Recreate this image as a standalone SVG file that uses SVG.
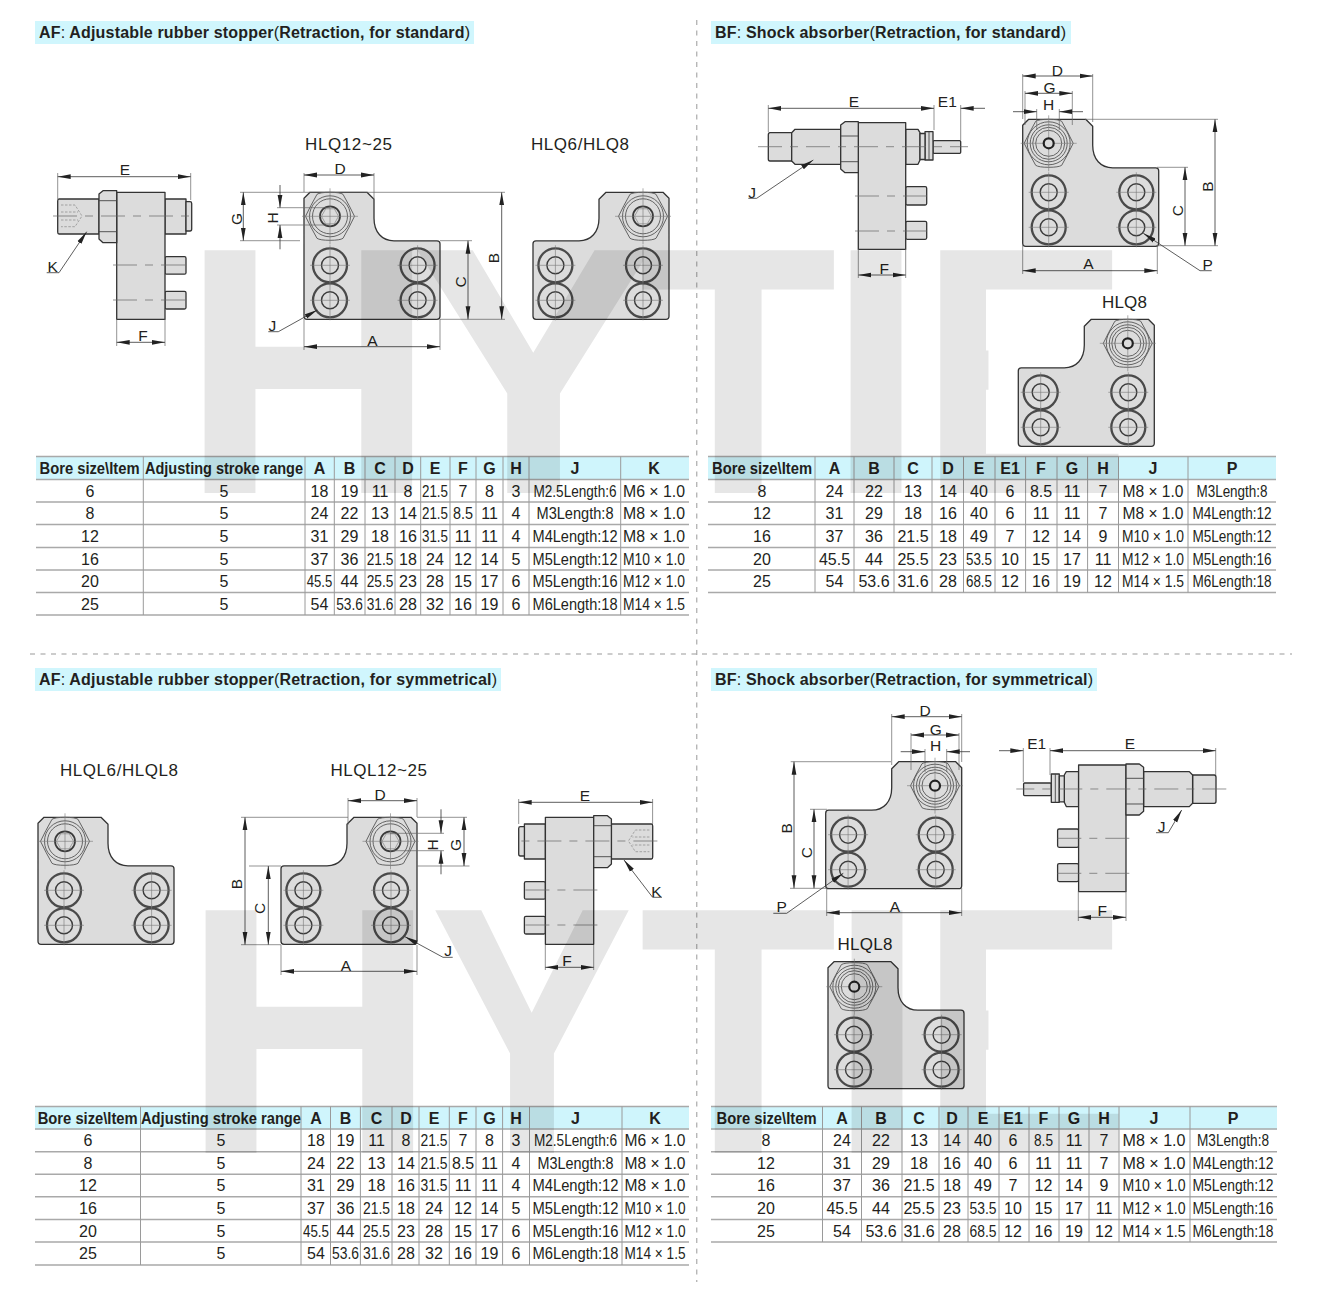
<svg xmlns="http://www.w3.org/2000/svg" width="1325" height="1307" viewBox="0 0 1325 1307">
<style>
text{font-family:"Liberation Sans",Arial,sans-serif;fill:#231f20}
.sm{stroke:#333;stroke-width:1.3;stroke-linejoin:round;fill:#dcdcdc}
.edge{stroke:#444;stroke-width:.9;fill:none}
.ring{fill:none;stroke:#4a4a4a;stroke-width:2.3}
.in{fill:none;stroke:#3a3a3a;stroke-width:1.4}
.thin{fill:none;stroke:#777;stroke-width:.6}
.nl{fill:none;stroke:#555;stroke-width:.9}
.hid{fill:none;stroke:#888;stroke-width:.7;stroke-dasharray:2.5 1.5}
.ctr{fill:none;stroke:#666;stroke-width:.7;stroke-dasharray:24 8 8 8}
.dim{fill:none;stroke:#333;stroke-width:.8;marker-start:url(#ar);marker-end:url(#ar)}
.one{fill:none;stroke:#333;stroke-width:.8;marker-end:url(#ar)}
.ext{fill:none;stroke:#666;stroke-width:.7}
.lab text{font-family:"Liberation Sans Narrow","Liberation Sans",Arial,sans-serif;font-size:15.5px;text-anchor:middle}
.ttl{font-size:17px}
.head{font-size:16px;font-weight:700}
.cell text{font-size:16px;text-anchor:middle}
.hc text{font-size:16px;font-weight:700;text-anchor:middle}
.bar{fill:#d0f6fd}
.hdr{fill:#cff5fc}
.row{stroke:#a9a9a9;stroke-width:1.5;fill:none}
.col{stroke:#9a9a9a;stroke-width:1;fill:none}
.sep{stroke:#999;stroke-width:1;stroke-dasharray:5 5.5;fill:none}
.reg{font-weight:400}
</style>
<defs>
<marker id="ar" markerUnits="userSpaceOnUse" markerWidth="14" markerHeight="6" refX="13" refY="3" orient="auto-start-reverse"><path d="M0,0.6 L13,3 L0,5.4Z" fill="#222"/></marker>
<clipPath id="e1"><rect x="900" y="240" width="240" height="57"/><rect x="900" y="297" width="88.5" height="153"/><rect x="900" y="450" width="240" height="50"/></clipPath>
<clipPath id="e2"><rect x="900" y="900" width="240" height="55"/><rect x="900" y="955" width="88.5" height="155"/><rect x="900" y="1110" width="240" height="50"/></clipPath>
<g id="bolt">
<circle r="17" class="ring"/><circle r="8.5" class="in"/>
<path class="thin" d="M-20,0H20M0,-20V20"/>
</g>
<g id="plate">
<path class="sm" d="M0,6 L6,0 H63 L70,7 V26 C70,40 78,48.5 90,48.5 H133 Q136,48.5 136,51.5 V124 Q136,127 133,127 H3 Q0,127 0,124 Z"/>
<use href="#bolt" x="26" y="73"/><use href="#bolt" x="26" y="108"/><use href="#bolt" x="113.6" y="73"/><use href="#bolt" x="113.6" y="108"/>
</g>
<g id="nutA">
<path class="nl" style="fill:#dcdcdc" d="M-24.5,0 L-19,-11 L-13,-22 Q-10,-24 0,-24 Q10,-24 13,-22 L19,-11 L24.5,0 L19,11 L13,22 Q10,24 0,24 Q-10,24 -13,22 L-19,11Z"/>
<circle r="20.5" class="nl"/><circle r="17.5" class="nl"/>
<circle r="10" class="in" style="stroke-width:1.8"/>
<path class="thin" d="M-8.5,0 L-4.3,-7.5 H4.3 L8.5,0 L4.3,7.5 H-4.3Z"/>
<path class="thin" d="M-28,0H28M0,-28V28"/>
</g>
<g id="nutB">
<path class="nl" style="fill:#dcdcdc" d="M-24.5,0 L-19,-11 L-13,-22 Q-10,-24 0,-24 Q10,-24 13,-22 L19,-11 L24.5,0 L19,11 L13,22 Q10,24 0,24 Q-10,24 -13,22 L-19,11Z"/>
<circle r="21.5" class="nl"/><circle r="18.5" class="nl"/><circle r="16" class="nl"/><circle r="13" class="nl"/>
<path class="thin" d="M-28,0H28M0,-28V28"/>
<circle r="5" fill="#dcdcdc" stroke="#222" stroke-width="2.2"/>
</g>
<g id="sideAF">
<path class="sm" d="M59,199 H99 V234 H59 Q57.7,234 57.7,232 V201 Q57.7,199 59,199Z"/>
<path class="hid" d="M61,205H75L82,216L75,226.7H61M61,212H78M61,220H78"/>
<rect class="sm" x="165" y="199" width="21" height="35"/>
<path class="sm" d="M186,201.7 H190 Q191.7,201.7 191.7,203.5 V229 Q191.7,231 190,231 H186Z"/>
<rect class="sm" x="165" y="256.7" width="21" height="17.5" rx="1.5"/>
<rect class="sm" x="165" y="291.3" width="21" height="17.7" rx="1.5"/>
<rect class="sm" x="116.7" y="192.3" width="48.3" height="127"/>
<path class="sm" d="M116.7,190.7 H103 L99,194 V239 L103,242.7 H116.7Z"/>
<path class="edge" d="M99,200.7H116.7M99,231.7H116.7"/>
<path class="ctr" d="M53,216H193M113,265H190M113,300H190"/>
</g>
<g id="sideBF">
<path class="sm" d="M770,132.7 H791.7 V161 H770 Q768.3,161 768.3,159 V135 Q768.3,132.7 770,132.7Z"/>
<path class="sm" d="M795,129.3 H840.7 V164.3 H795 L791.7,161 V132.7Z"/>
<rect class="sm" x="933" y="140.7" width="27.7" height="12.6" rx="1"/>
<path class="sm" d="M925,131.7H933V160H925Z"/>
<path class="edge" d="M929,131.7V160"/>
<path class="sm" d="M905.7,129.3H918L920,132.7V160L918,164.3H905.7Z"/>
<path class="sm" d="M920,133.5H925V159.5H920Z"/>
<rect class="sm" x="905.7" y="186.7" width="21" height="18.3" rx="1.5"/>
<rect class="sm" x="905.7" y="221.3" width="21" height="18" rx="1.5"/>
<rect class="sm" x="858.3" y="122.7" width="47.4" height="126.6"/>
<path class="sm" d="M858.3,121.7 H845 L840.7,125 V169 L845,172.7 H858.3Z"/>
<path class="edge" d="M840.7,136H858.3M840.7,161.7H858.3"/>
<path class="ctr" d="M758,146.7H968M855,196H931.7M855,231H931.7"/>
</g>
</defs>

<g id="separators">
<path class="sep" d="M696.8,20V1282M30,654H1292"/>
</g>

<g id="titles">
<rect class="bar" x="35" y="21" width="439" height="23"/>
<rect class="bar" x="711" y="21" width="360" height="23"/>
<rect class="bar" x="35" y="668" width="466" height="23"/>
<rect class="bar" x="711" y="668" width="386" height="23"/>
<text class="head" x="39" y="38" textLength="431">AF<tspan class="reg">:</tspan> Adjustable rubber stopper<tspan class="reg">(</tspan>Retraction, for standard<tspan class="reg">)</tspan></text>
<text class="head" x="715" y="38" textLength="351">BF<tspan class="reg">:</tspan> Shock absorber<tspan class="reg">(</tspan>Retraction, for standard<tspan class="reg">)</tspan></text>
<text class="head" x="39" y="685" textLength="458">AF<tspan class="reg">:</tspan> Adjustable rubber stopper<tspan class="reg">(</tspan>Retraction, for symmetrical<tspan class="reg">)</tspan></text>
<text class="head" x="715" y="685" textLength="378">BF<tspan class="reg">:</tspan> Shock absorber<tspan class="reg">(</tspan>Retraction, for symmetrical<tspan class="reg">)</tspan></text>
</g>

<g id="node-af-std-side"><use href="#sideAF"/></g>
<g id="node-af-std-front">
<text class="ttl" x="305" y="150" textLength="87">HLQ12~25</text>
<g transform="translate(304,192.3)"><use href="#plate"/><use href="#nutA" x="26" y="24"/></g>
</g>
<g id="node-af-std-small">
<text class="ttl" x="531" y="150" textLength="98">HLQ6/HLQ8</text>
<g transform="translate(669,192.3) scale(-1,1)"><use href="#plate"/><use href="#nutA" x="26" y="24"/></g>
</g>
<g id="node-bf-std-side"><use href="#sideBF"/></g>
<g id="node-bf-std-front">
<g transform="translate(1022.7,119.3)"><use href="#plate"/><use href="#nutB" x="26" y="24"/></g>
</g>
<g id="node-bf-std-small">
<text class="ttl" x="1102" y="308" textLength="45">HLQ8</text>
<g transform="translate(1154.3,319.3) scale(-1,1)"><use href="#plate"/><use href="#nutB" x="26.5" y="24"/></g>
</g>
<g id="node-af-sym-small">
<text class="ttl" x="60" y="776" textLength="118">HLQL6/HLQL8</text>
<g transform="translate(38,817.3)"><use href="#plate"/><use href="#nutA" x="27" y="24"/></g>
</g>
<g id="node-af-sym-front">
<text class="ttl" x="330.5" y="776" textLength="96.5">HLQL12~25</text>
<g transform="translate(417,817.3) scale(-1,1)"><use href="#plate"/><use href="#nutA" x="26.5" y="24"/></g>
</g>
<g id="node-af-sym-side"><use href="#sideAF" transform="translate(710.4,625) scale(-1,1)"/></g>
<g id="node-bf-sym-front">
<g transform="translate(961.7,761.7) scale(-1,1)"><use href="#plate"/><use href="#nutB" x="26.7" y="24"/></g>
</g>
<g id="node-bf-sym-side"><use href="#sideBF" transform="translate(1984.3,642.3) scale(-1,1)"/></g>
<g id="node-bf-sym-small">
<text class="ttl" x="837.5" y="950" textLength="55">HLQL8</text>
<g transform="translate(828,961.7)"><use href="#plate"/><use href="#nutB" x="26.3" y="25"/></g>
</g>

<g id="connectors">
<path class="ext" d="M57.7,173V199M190.7,173V200M116.7,319V346M165,319V346"/>
<path class="dim" d="M57.7,176.7H190.7"/><path class="dim" d="M116.7,342.3H165"/>
<path class="one" d="M46.7,272.7H59L86.7,231.7"/>
<path class="ext" d="M304,173V192M374,173V199M304,319V350M440,319V350M240,192.3H505M240,240.7H300M277,207.7H330M277,225H330M440,319.3H505M440,240.7H472"/>
<path class="dim" d="M304,175H374"/><path class="dim" d="M304,346.7H440"/>
<path class="dim" d="M243.3,192.3V240.7"/>
<path class="one" d="M280,185V207.7"/><path class="one" d="M280,249.3V225"/>
<path class="dim" d="M468,240.7V319.3"/><path class="dim" d="M501.7,192.3V319.3"/>
<path class="one" d="M268.3,331.7H278.3L317.3,310"/>
<path class="ext" d="M768.3,105V132M934,105V130M960.7,105V140M858.3,249V278M905.7,249V278"/>
<path class="dim" d="M768.3,108.3H934"/><path class="one" d="M985,108.3H960.7"/>
<path class="dim" d="M858.3,275H905.7"/>
<path class="one" d="M748.3,198.3H756.7L813.3,160"/>
<path class="ext" d="M1022.7,74V119M1092.7,74V122M1025,91V125M1072.3,91V125M1036.7,109V130M1059.3,109V130M1085,119.3H1218M1157,245.7H1218M1157,167.3H1188M1022.7,245V274M1157.3,245V274"/>
<path class="dim" d="M1022.7,76H1092.7"/><path class="dim" d="M1025,93.3H1072.3"/>
<path class="one" d="M1013,111.7H1036.7"/><path class="one" d="M1083,111.7H1059.3"/>
<path class="dim" d="M1215,119.3V245.7"/><path class="dim" d="M1185,167.3V245.7"/>
<path class="dim" d="M1022.7,270.7H1157.3"/>
<path class="one" d="M1211.7,270.7H1200L1143.3,233.3"/>
<path class="ext" d="M348,798V825M417,798V817M241,817.3H348M417,817.3H467M241,944.7H281M249,866H281M417,866H469.5M281,945V975M417,945V975M390,833.3H444M390,850.7H444M518.7,799V824M652.6,799V824M545.3,945V970M593.7,945V970"/>
<path class="dim" d="M348,800.7H417"/><path class="dim" d="M245,817.3V944.7"/><path class="dim" d="M268.3,866V944.7"/>
<path class="dim" d="M281,971.3H417"/><path class="dim" d="M464,817.3V866"/>
<path class="one" d="M441,809.3V833.3"/><path class="one" d="M441,874.3V850.7"/>
<path class="one" d="M452.7,957.3H443L405,936.7"/>
<path class="dim" d="M518.7,802.3H652.6"/><path class="dim" d="M545.3,967.3H593.7"/>
<path class="one" d="M662,897.3H652.6L624,860"/>
<path class="ext" d="M891.7,714V765M961.7,714V762M911,733V770M959,733V770M925,749V772M946.7,749V772M790.7,761.7H891M790,888.3H827M810,809.3H827M826.7,888V916M961.7,888V916M1023.3,748V782M1050,748V775M1215.7,748V775M1078.3,891V921M1126,891V921"/>
<path class="dim" d="M891.7,716.7H961.7"/><path class="dim" d="M911,735H959"/>
<path class="one" d="M900.7,751.7H925"/><path class="one" d="M970,751.7H946.7"/>
<path class="dim" d="M794,761.7V888.3"/><path class="dim" d="M814,809.3V888.3"/><path class="dim" d="M826.7,912.7H961.7"/>
<path class="one" d="M773.3,913.3H786.7L843.3,873.3"/>
<path class="one" d="M999,750.7H1023.3"/><path class="dim" d="M1050,750.7H1215.7"/><path class="dim" d="M1078.3,917.3H1126"/>
<path class="one" d="M1156,832.7H1168.3L1181.7,810"/>
</g>

<g id="dimension-labels" class="lab">
<text x="125" y="174.5">E</text><text x="143" y="341">F</text><text x="52.7" y="271.5">K</text>
<text x="340" y="174">D</text><text x="372.3" y="345.5">A</text><text x="272.3" y="330.5">J</text>
<text transform="translate(241.5,219) rotate(-90)">G</text><text transform="translate(277.5,218) rotate(-90)">H</text>
<text transform="translate(465.5,282) rotate(-90)">C</text><text transform="translate(499,258) rotate(-90)">B</text>
<text x="854" y="106.5">E</text><text x="947.3" y="106.5">E1</text><text x="884.3" y="273.5">F</text><text x="752" y="197.5">J</text>
<text x="1057.3" y="75.5">D</text><text x="1049.5" y="92.5">G</text><text x="1048.5" y="109.5">H</text>
<text transform="translate(1212.7,186.7) rotate(-90)">B</text><text transform="translate(1182.7,210.7) rotate(-90)">C</text>
<text x="1088.3" y="269">A</text><text x="1207.7" y="269.5">P</text>
<text x="380" y="799.5">D</text><text x="346" y="970.5">A</text><text x="448" y="955.5">J</text>
<text transform="translate(241.7,884) rotate(-90)">B</text><text transform="translate(265,908.3) rotate(-90)">C</text>
<text transform="translate(460.6,845) rotate(-90)">G</text><text transform="translate(437.5,845) rotate(-90)">H</text>
<text x="585" y="800.5">E</text><text x="567" y="966">F</text><text x="656.4" y="897">K</text>
<text x="925" y="716">D</text><text x="935.7" y="734.5">G</text><text x="935.7" y="750.5">H</text>
<text transform="translate(792.3,828.3) rotate(-90)">B</text><text transform="translate(812.3,852.7) rotate(-90)">C</text>
<text x="895" y="911.5">A</text><text x="781.7" y="912">P</text>
<text x="1036.7" y="749">E1</text><text x="1130" y="749">E</text><text x="1102.3" y="915.5">F</text><text x="1161.7" y="831.5">J</text>
</g>

<g id="table-1">
<rect class="hdr" x="36" y="456.5" width="653" height="23"/>
<path class="row" d="M36,456.5H689M36,479.5H689M36,502H689M36,524.5H689M36,547.5H689M36,570H689M36,592.5H689M36,615H689"/>
<path class="col" d="M143.3,456.5V615M305,456.5V615M334.3,456.5V615M365,456.5V615M395,456.5V615M420.7,456.5V615M450,456.5V615M476,456.5V615M503,456.5V615M529,456.5V615M620.7,456.5V615"/>
<g class="hc">
<text x="89.5" y="473.5" textLength="100" lengthAdjust="spacingAndGlyphs">Bore size\Item</text>
<text x="224" y="473.5" textLength="158" lengthAdjust="spacingAndGlyphs">Adjusting stroke range</text>
<text x="319.5" y="473.5">A</text><text x="349.5" y="473.5">B</text><text x="380" y="473.5">C</text><text x="408" y="473.5">D</text><text x="435" y="473.5">E</text><text x="463" y="473.5">F</text><text x="489.5" y="473.5">G</text><text x="516" y="473.5">H</text><text x="575" y="473.5">J</text><text x="654" y="473.5">K</text>
</g>
<g class="cell">
<text x="90" y="496.5">6</text><text x="224" y="496.5">5</text><text x="319.5" y="496.5">18</text><text x="349.5" y="496.5">19</text><text x="380" y="496.5">11</text><text x="408" y="496.5">8</text><text x="435" y="496.5" textLength="26" lengthAdjust="spacingAndGlyphs">21.5</text><text x="463" y="496.5">7</text><text x="489.5" y="496.5">8</text><text x="516" y="496.5">3</text><text x="575" y="496.5" textLength="83" lengthAdjust="spacingAndGlyphs">M2.5Length:6</text><text x="654" y="496.5" textLength="62" lengthAdjust="spacingAndGlyphs">M6 × 1.0</text>
<text x="90" y="519">8</text><text x="224" y="519">5</text><text x="319.5" y="519">24</text><text x="349.5" y="519">22</text><text x="380" y="519">13</text><text x="408" y="519">14</text><text x="435" y="519" textLength="26" lengthAdjust="spacingAndGlyphs">21.5</text><text x="463" y="519" textLength="20" lengthAdjust="spacingAndGlyphs">8.5</text><text x="489.5" y="519">11</text><text x="516" y="519">4</text><text x="575" y="519" textLength="77" lengthAdjust="spacingAndGlyphs">M3Length:8</text><text x="654" y="519" textLength="62" lengthAdjust="spacingAndGlyphs">M8 × 1.0</text>
<text x="90" y="541.8">12</text><text x="224" y="541.8">5</text><text x="319.5" y="541.8">31</text><text x="349.5" y="541.8">29</text><text x="380" y="541.8">18</text><text x="408" y="541.8">16</text><text x="435" y="541.8" textLength="26" lengthAdjust="spacingAndGlyphs">31.5</text><text x="463" y="541.8">11</text><text x="489.5" y="541.8">11</text><text x="516" y="541.8">4</text><text x="575" y="541.8" textLength="85" lengthAdjust="spacingAndGlyphs">M4Length:12</text><text x="654" y="541.8" textLength="62" lengthAdjust="spacingAndGlyphs">M8 × 1.0</text>
<text x="90" y="564.5">16</text><text x="224" y="564.5">5</text><text x="319.5" y="564.5">37</text><text x="349.5" y="564.5">36</text><text x="380" y="564.5" textLength="26.7" lengthAdjust="spacingAndGlyphs">21.5</text><text x="408" y="564.5">18</text><text x="435" y="564.5">24</text><text x="463" y="564.5">12</text><text x="489.5" y="564.5">14</text><text x="516" y="564.5">5</text><text x="575" y="564.5" textLength="85" lengthAdjust="spacingAndGlyphs">M5Length:12</text><text x="654" y="564.5" textLength="62" lengthAdjust="spacingAndGlyphs">M10 × 1.0</text>
<text x="90" y="587">20</text><text x="224" y="587">5</text><text x="319.5" y="587" textLength="25.5" lengthAdjust="spacingAndGlyphs">45.5</text><text x="349.5" y="587">44</text><text x="380" y="587" textLength="26.7" lengthAdjust="spacingAndGlyphs">25.5</text><text x="408" y="587">23</text><text x="435" y="587">28</text><text x="463" y="587">15</text><text x="489.5" y="587">17</text><text x="516" y="587">6</text><text x="575" y="587" textLength="85" lengthAdjust="spacingAndGlyphs">M5Length:16</text><text x="654" y="587" textLength="62" lengthAdjust="spacingAndGlyphs">M12 × 1.0</text>
<text x="90" y="609.8">25</text><text x="224" y="609.8">5</text><text x="319.5" y="609.8">54</text><text x="349.5" y="609.8" textLength="26.7" lengthAdjust="spacingAndGlyphs">53.6</text><text x="380" y="609.8" textLength="26.7" lengthAdjust="spacingAndGlyphs">31.6</text><text x="408" y="609.8">28</text><text x="435" y="609.8">32</text><text x="463" y="609.8">16</text><text x="489.5" y="609.8">19</text><text x="516" y="609.8">6</text><text x="575" y="609.8" textLength="85" lengthAdjust="spacingAndGlyphs">M6Length:18</text><text x="654" y="609.8" textLength="62" lengthAdjust="spacingAndGlyphs">M14 × 1.5</text>
</g>
</g>

<g id="table-2">
<rect class="hdr" x="708" y="456.5" width="568" height="23"/>
<path class="row" d="M708,456.5H1276M708,479.5H1276M708,502H1276M708,524.5H1276M708,547.5H1276M708,570H1276M708,592.5H1276"/>
<path class="col" d="M815,456.5V592.5M854,456.5V592.5M894,456.5V592.5M932,456.5V592.5M963.5,456.5V592.5M995,456.5V592.5M1025.6,456.5V592.5M1057,456.5V592.5M1087.6,456.5V592.5M1118.5,456.5V592.5M1188,456.5V592.5"/>
<g class="hc">
<text x="762" y="473.5" textLength="100" lengthAdjust="spacingAndGlyphs">Bore size\Item</text>
<text x="834.5" y="473.5">A</text><text x="874" y="473.5">B</text><text x="913" y="473.5">C</text><text x="948" y="473.5">D</text><text x="979" y="473.5">E</text><text x="1010" y="473.5">E1</text><text x="1041" y="473.5">F</text><text x="1072" y="473.5">G</text><text x="1103" y="473.5">H</text><text x="1153" y="473.5">J</text><text x="1232" y="473.5">P</text>
</g>
<g class="cell">
<text x="762" y="496.5">8</text><text x="834.5" y="496.5">24</text><text x="874" y="496.5">22</text><text x="913" y="496.5">13</text><text x="948" y="496.5">14</text><text x="979" y="496.5">40</text><text x="1010" y="496.5">6</text><text x="1041" y="496.5">8.5</text><text x="1072" y="496.5">11</text><text x="1103" y="496.5">7</text><text x="1153" y="496.5" textLength="61" lengthAdjust="spacingAndGlyphs">M8 × 1.0</text><text x="1232" y="496.5" textLength="71" lengthAdjust="spacingAndGlyphs">M3Length:8</text>
<text x="762" y="519">12</text><text x="834.5" y="519">31</text><text x="874" y="519">29</text><text x="913" y="519">18</text><text x="948" y="519">16</text><text x="979" y="519">40</text><text x="1010" y="519">6</text><text x="1041" y="519">11</text><text x="1072" y="519">11</text><text x="1103" y="519">7</text><text x="1153" y="519" textLength="61" lengthAdjust="spacingAndGlyphs">M8 × 1.0</text><text x="1232" y="519" textLength="79" lengthAdjust="spacingAndGlyphs">M4Length:12</text>
<text x="762" y="541.8">16</text><text x="834.5" y="541.8">37</text><text x="874" y="541.8">36</text><text x="913" y="541.8">21.5</text><text x="948" y="541.8">18</text><text x="979" y="541.8">49</text><text x="1010" y="541.8">7</text><text x="1041" y="541.8">12</text><text x="1072" y="541.8">14</text><text x="1103" y="541.8">9</text><text x="1153" y="541.8" textLength="62" lengthAdjust="spacingAndGlyphs">M10 × 1.0</text><text x="1232" y="541.8" textLength="79" lengthAdjust="spacingAndGlyphs">M5Length:12</text>
<text x="762" y="564.5">20</text><text x="834.5" y="564.5">45.5</text><text x="874" y="564.5">44</text><text x="913" y="564.5">25.5</text><text x="948" y="564.5">23</text><text x="979" y="564.5" textLength="26" lengthAdjust="spacingAndGlyphs">53.5</text><text x="1010" y="564.5">10</text><text x="1041" y="564.5">15</text><text x="1072" y="564.5">17</text><text x="1103" y="564.5">11</text><text x="1153" y="564.5" textLength="62" lengthAdjust="spacingAndGlyphs">M12 × 1.0</text><text x="1232" y="564.5" textLength="79" lengthAdjust="spacingAndGlyphs">M5Length:16</text>
<text x="762" y="587">25</text><text x="834.5" y="587">54</text><text x="874" y="587">53.6</text><text x="913" y="587">31.6</text><text x="948" y="587">28</text><text x="979" y="587" textLength="26" lengthAdjust="spacingAndGlyphs">68.5</text><text x="1010" y="587">12</text><text x="1041" y="587">16</text><text x="1072" y="587">19</text><text x="1103" y="587">12</text><text x="1153" y="587" textLength="62" lengthAdjust="spacingAndGlyphs">M14 × 1.5</text><text x="1232" y="587" textLength="79" lengthAdjust="spacingAndGlyphs">M6Length:18</text>
</g>
</g>

<g id="table-3">
<rect class="hdr" x="35" y="1106.5" width="654" height="23"/>
<path class="row" d="M35,1106.5H689M35,1129H689M35,1151.7H689M35,1174.2H689M35,1196.8H689M35,1219.5H689M35,1242H689M35,1265H689"/>
<path class="col" d="M140.5,1106.5V1265M301,1106.5V1265M330.5,1106.5V1265M360.4,1106.5V1265M392,1106.5V1265M419,1106.5V1265M449.3,1106.5V1265M476,1106.5V1265M502.6,1106.5V1265M529.5,1106.5V1265M622,1106.5V1265"/>
<g class="hc">
<text x="87.7" y="1123.5" textLength="100" lengthAdjust="spacingAndGlyphs">Bore size\Item</text>
<text x="221" y="1123.5" textLength="160" lengthAdjust="spacingAndGlyphs">Adjusting stroke range</text>
<text x="316" y="1123.5">A</text><text x="345.5" y="1123.5">B</text><text x="376.5" y="1123.5">C</text><text x="406" y="1123.5">D</text><text x="434" y="1123.5">E</text><text x="463" y="1123.5">F</text><text x="489.5" y="1123.5">G</text><text x="516" y="1123.5">H</text><text x="575.5" y="1123.5">J</text><text x="655" y="1123.5">K</text>
</g>
<g class="cell">
<text x="88" y="1146">6</text><text x="221" y="1146">5</text><text x="316" y="1146">18</text><text x="345.5" y="1146">19</text><text x="376.5" y="1146">11</text><text x="406" y="1146">8</text><text x="434" y="1146" textLength="27" lengthAdjust="spacingAndGlyphs">21.5</text><text x="463" y="1146">7</text><text x="489.5" y="1146">8</text><text x="516" y="1146">3</text><text x="575.5" y="1146" textLength="83" lengthAdjust="spacingAndGlyphs">M2.5Length:6</text><text x="655" y="1146" textLength="61" lengthAdjust="spacingAndGlyphs">M6 × 1.0</text>
<text x="88" y="1168.7">8</text><text x="221" y="1168.7">5</text><text x="316" y="1168.7">24</text><text x="345.5" y="1168.7">22</text><text x="376.5" y="1168.7">13</text><text x="406" y="1168.7">14</text><text x="434" y="1168.7" textLength="27" lengthAdjust="spacingAndGlyphs">21.5</text><text x="463" y="1168.7">8.5</text><text x="489.5" y="1168.7">11</text><text x="516" y="1168.7">4</text><text x="575.5" y="1168.7" textLength="76" lengthAdjust="spacingAndGlyphs">M3Length:8</text><text x="655" y="1168.7" textLength="61" lengthAdjust="spacingAndGlyphs">M8 × 1.0</text>
<text x="88" y="1191.4">12</text><text x="221" y="1191.4">5</text><text x="316" y="1191.4">31</text><text x="345.5" y="1191.4">29</text><text x="376.5" y="1191.4">18</text><text x="406" y="1191.4">16</text><text x="434" y="1191.4" textLength="27" lengthAdjust="spacingAndGlyphs">31.5</text><text x="463" y="1191.4">11</text><text x="489.5" y="1191.4">11</text><text x="516" y="1191.4">4</text><text x="575.5" y="1191.4" textLength="86" lengthAdjust="spacingAndGlyphs">M4Length:12</text><text x="655" y="1191.4" textLength="61" lengthAdjust="spacingAndGlyphs">M8 × 1.0</text>
<text x="88" y="1214">16</text><text x="221" y="1214">5</text><text x="316" y="1214">37</text><text x="345.5" y="1214">36</text><text x="376.5" y="1214" textLength="27" lengthAdjust="spacingAndGlyphs">21.5</text><text x="406" y="1214">18</text><text x="434" y="1214">24</text><text x="463" y="1214">12</text><text x="489.5" y="1214">14</text><text x="516" y="1214">5</text><text x="575.5" y="1214" textLength="86" lengthAdjust="spacingAndGlyphs">M5Length:12</text><text x="655" y="1214" textLength="61" lengthAdjust="spacingAndGlyphs">M10 × 1.0</text>
<text x="88" y="1236.7">20</text><text x="221" y="1236.7">5</text><text x="316" y="1236.7" textLength="26" lengthAdjust="spacingAndGlyphs">45.5</text><text x="345.5" y="1236.7">44</text><text x="376.5" y="1236.7" textLength="27" lengthAdjust="spacingAndGlyphs">25.5</text><text x="406" y="1236.7">23</text><text x="434" y="1236.7">28</text><text x="463" y="1236.7">15</text><text x="489.5" y="1236.7">17</text><text x="516" y="1236.7">6</text><text x="575.5" y="1236.7" textLength="86" lengthAdjust="spacingAndGlyphs">M5Length:16</text><text x="655" y="1236.7" textLength="61" lengthAdjust="spacingAndGlyphs">M12 × 1.0</text>
<text x="88" y="1259">25</text><text x="221" y="1259">5</text><text x="316" y="1259">54</text><text x="345.5" y="1259" textLength="27" lengthAdjust="spacingAndGlyphs">53.6</text><text x="376.5" y="1259" textLength="27" lengthAdjust="spacingAndGlyphs">31.6</text><text x="406" y="1259">28</text><text x="434" y="1259">32</text><text x="463" y="1259">16</text><text x="489.5" y="1259">19</text><text x="516" y="1259">6</text><text x="575.5" y="1259" textLength="86" lengthAdjust="spacingAndGlyphs">M6Length:18</text><text x="655" y="1259" textLength="61" lengthAdjust="spacingAndGlyphs">M14 × 1.5</text>
</g>
</g>

<g id="table-4">
<rect class="hdr" x="711" y="1106.5" width="566" height="23"/>
<path class="row" d="M711,1106.5H1277M711,1129H1277M711,1151.7H1277M711,1174.2H1277M711,1196.8H1277M711,1219.5H1277M711,1242H1277"/>
<path class="col" d="M822.5,1106.5V1242M861.5,1106.5V1242M902,1106.5V1242M939,1106.5V1242M968,1106.5V1242M999,1106.5V1242M1029,1106.5V1242M1059,1106.5V1242M1089,1106.5V1242M1119,1106.5V1242M1190,1106.5V1242"/>
<g class="hc">
<text x="766.5" y="1123.5" textLength="100" lengthAdjust="spacingAndGlyphs">Bore size\Item</text>
<text x="842" y="1123.5">A</text><text x="881" y="1123.5">B</text><text x="919" y="1123.5">C</text><text x="952" y="1123.5">D</text><text x="983" y="1123.5">E</text><text x="1013" y="1123.5">E1</text><text x="1043.5" y="1123.5">F</text><text x="1074" y="1123.5">G</text><text x="1104" y="1123.5">H</text><text x="1154" y="1123.5">J</text><text x="1233" y="1123.5">P</text>
</g>
<g class="cell">
<text x="766" y="1146">8</text><text x="842" y="1146">24</text><text x="881" y="1146">22</text><text x="919" y="1146">13</text><text x="952" y="1146">14</text><text x="983" y="1146">40</text><text x="1013" y="1146">6</text><text x="1043.5" y="1146" textLength="19" lengthAdjust="spacingAndGlyphs">8.5</text><text x="1074" y="1146">11</text><text x="1104" y="1146">7</text><text x="1154" y="1146" textLength="63" lengthAdjust="spacingAndGlyphs">M8 × 1.0</text><text x="1233" y="1146" textLength="72" lengthAdjust="spacingAndGlyphs">M3Length:8</text>
<text x="766" y="1168.7">12</text><text x="842" y="1168.7">31</text><text x="881" y="1168.7">29</text><text x="919" y="1168.7">18</text><text x="952" y="1168.7">16</text><text x="983" y="1168.7">40</text><text x="1013" y="1168.7">6</text><text x="1043.5" y="1168.7">11</text><text x="1074" y="1168.7">11</text><text x="1104" y="1168.7">7</text><text x="1154" y="1168.7" textLength="63" lengthAdjust="spacingAndGlyphs">M8 × 1.0</text><text x="1233" y="1168.7" textLength="81" lengthAdjust="spacingAndGlyphs">M4Length:12</text>
<text x="766" y="1191.4">16</text><text x="842" y="1191.4">37</text><text x="881" y="1191.4">36</text><text x="919" y="1191.4">21.5</text><text x="952" y="1191.4">18</text><text x="983" y="1191.4">49</text><text x="1013" y="1191.4">7</text><text x="1043.5" y="1191.4">12</text><text x="1074" y="1191.4">14</text><text x="1104" y="1191.4">9</text><text x="1154" y="1191.4" textLength="63" lengthAdjust="spacingAndGlyphs">M10 × 1.0</text><text x="1233" y="1191.4" textLength="81" lengthAdjust="spacingAndGlyphs">M5Length:12</text>
<text x="766" y="1214">20</text><text x="842" y="1214">45.5</text><text x="881" y="1214">44</text><text x="919" y="1214">25.5</text><text x="952" y="1214">23</text><text x="983" y="1214" textLength="27" lengthAdjust="spacingAndGlyphs">53.5</text><text x="1013" y="1214">10</text><text x="1043.5" y="1214">15</text><text x="1074" y="1214">17</text><text x="1104" y="1214">11</text><text x="1154" y="1214" textLength="63" lengthAdjust="spacingAndGlyphs">M12 × 1.0</text><text x="1233" y="1214" textLength="81" lengthAdjust="spacingAndGlyphs">M5Length:16</text>
<text x="766" y="1236.7">25</text><text x="842" y="1236.7">54</text><text x="881" y="1236.7">53.6</text><text x="919" y="1236.7">31.6</text><text x="952" y="1236.7">28</text><text x="983" y="1236.7" textLength="27" lengthAdjust="spacingAndGlyphs">68.5</text><text x="1013" y="1236.7">12</text><text x="1043.5" y="1236.7">16</text><text x="1074" y="1236.7">19</text><text x="1104" y="1236.7">12</text><text x="1154" y="1236.7" textLength="63" lengthAdjust="spacingAndGlyphs">M14 × 1.5</text><text x="1233" y="1236.7" textLength="81" lengthAdjust="spacingAndGlyphs">M6Length:18</text>
</g>
</g>

<g id="watermark" opacity=".1" style="font-size:353px;font-weight:700">
<text style="fill:#000" transform="translate(181,493)">H</text>
<text style="fill:#000" transform="translate(411,493) scale(1.04,1)">Y</text>
<text style="fill:#000" transform="translate(639,493) scale(.92,1)">T</text>
<text style="fill:#000" transform="translate(827,493)">I</text>
<g clip-path="url(#e1)"><text style="fill:#000" transform="translate(919,493) scale(.9,1)">E</text></g>
<text style="fill:#000" transform="translate(182,1153)">H</text>
<text style="fill:#000" transform="translate(430,1153) scale(.865,1)">Y</text>
<text style="fill:#000" transform="translate(639,1153) scale(.92,1)">T</text>
<text style="fill:#000" transform="translate(828,1153)">I</text>
<g clip-path="url(#e2)"><text style="fill:#000" transform="translate(919,1153) scale(.9,1)">E</text></g>
</g>
</svg>
